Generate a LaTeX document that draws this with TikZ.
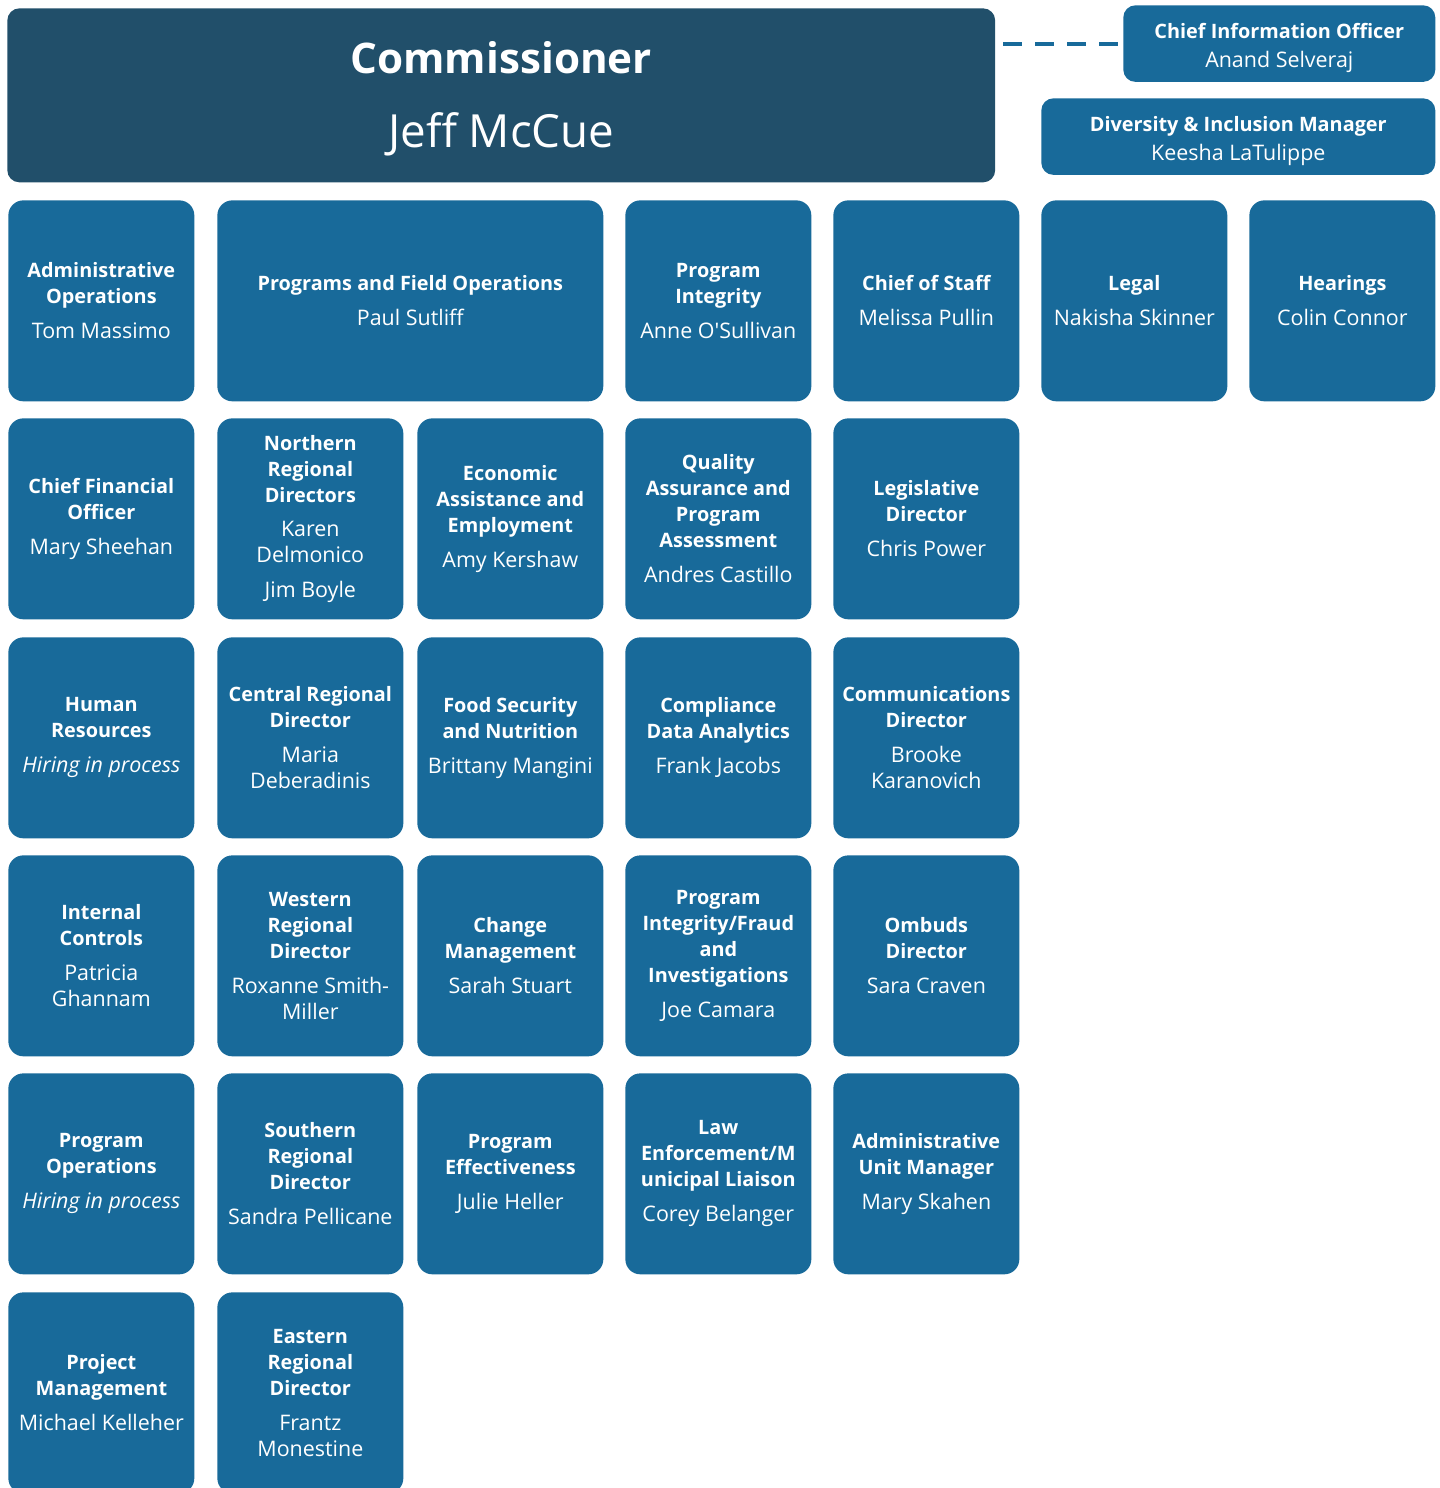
\documentclass[tikz,border=0pt]{standalone}
\usepackage{fontspec}
\setmainfont{Open Sans}
\usetikzlibrary{positioning}
\definecolor{boxblue}{RGB}{24,106,154}
\definecolor{headblue}{RGB}{33,79,106}
\newcommand{\hd}[1]{{\fontsize{11.3}{14.8}\selectfont\bfseries #1}}

\begin{document}
\begin{tikzpicture}[x=0.02cm, y=-0.02cm,
  orgunit/.style={anchor=north west, rounded corners=0.3cm, fill=boxblue,
    text=white, align=center, inner sep=2pt, minimum width=3.72cm,
    minimum height=4.02cm, font=\fontsize{12.2}{14.8}\selectfont},
  wideunit/.style={orgunit, minimum width=7.72cm},
  topunit/.style={anchor=north west, rounded corners=0.24cm, fill=boxblue,
    text=white, align=center, inner sep=2pt, minimum height=1.53cm,
    font=\fontsize{12.2}{16.5}\selectfont}]
        \clip (0,0) rectangle (1440,1488);
        \node [anchor=north west, rounded corners=0.24cm, fill=headblue, text=white,
          align=center, minimum width=19.76cm, minimum height=3.48cm,
          font=\fontsize{26}{42}\selectfont] (comm) at (7,8)
          {\rule{0pt}{22pt}{\fontsize{24}{42}\selectfont\bfseries Commissioner}\\Jeff McCue};
        \node [topunit, minimum width=6.24cm] (cio) at (1123,5)
          {\rule{0pt}{13.3pt}\hd{Chief Information Officer}\\Anand Selveraj};
        \node [topunit, minimum width=7.88cm] (diversity) at (1041,98)
          {\rule{0pt}{13.3pt}\hd{Diversity \& Inclusion Manager}\\Keesha LaTulippe};
        \draw [boxblue, line width=2.3pt, dash pattern=on 10.8pt off 7.4pt,
          shorten <=4.5pt] (comm.east |- cio.west) -- (cio.west);
        % first row
        \node [orgunit] (adminops) at (8,200)
          {\hd{Administrative}\\\hd{Operations}\\[5pt]Tom Massimo};
        \node [wideunit] (progfield) at (217,200)
          {\hd{Programs and Field Operations}\\[5pt]Paul Sutliff};
        \node [orgunit] (progint) at (625,200)
          {\hd{Program}\\\hd{Integrity}\\[5pt]Anne O\textquotesingle Sullivan};
        \node [orgunit] (chiefstaff) at (833,200)
          {\hd{Chief of Staff}\\[5pt]Melissa Pullin};
        \node [orgunit] (legal) at (1041,200)
          {\hd{Legal}\\[5pt]Nakisha Skinner};
        \node [orgunit] (hearings) at (1249,200)
          {\hd{Hearings}\\[5pt]Colin Connor};
        % second row
        \node [orgunit] (cfo) at (8,418)
          {\hd{Chief Financial}\\\hd{Officer}\\[5pt]Mary Sheehan};
        \node [orgunit] (northern) at (217,418)
          {\hd{Northern}\\\hd{Regional}\\\hd{Directors}\\[5pt]Karen\\Delmonico\\[5pt]Jim Boyle};
        \node [orgunit] (econ) at (417,418)
          {\hd{Economic}\\\hd{Assistance and}\\\hd{Employment}\\[5pt]Amy Kershaw};
        \node [orgunit] (quality) at (625,418)
          {\hd{Quality}\\\hd{Assurance and}\\\hd{Program}\\\hd{Assessment}\\[5pt]Andres Castillo};
        \node [orgunit] (legis) at (833,418)
          {\hd{Legislative}\\\hd{Director}\\[5pt]Chris Power};
        % third row
        \node [orgunit] (hr) at (8,637)
          {\hd{Human}\\\hd{Resources}\\[5pt]\textit{Hiring in process}};
        \node [orgunit] (central) at (217,637)
          {\hd{Central Regional}\\\hd{Director}\\[5pt]Maria\\Deberadinis};
        \node [orgunit] (food) at (417,637)
          {\hd{Food Security}\\\hd{and Nutrition}\\[5pt]Brittany Mangini};
        \node [orgunit] (compliance) at (625,637)
          {\hd{Compliance}\\\hd{Data Analytics}\\[5pt]Frank Jacobs};
        \node [orgunit] (comms) at (833,637)
          {\hd{Communications}\\\hd{Director}\\[5pt]Brooke\\Karanovich};
        % fourth row
        \node [orgunit] (intctrl) at (8,855)
          {\hd{Internal}\\\hd{Controls}\\[5pt]Patricia\\Ghannam};
        \node [orgunit] (western) at (217,855)
          {\hd{Western}\\\hd{Regional}\\\hd{Director}\\[5pt]Roxanne Smith-\\Miller};
        \node [orgunit] (change) at (417,855)
          {\hd{Change}\\\hd{Management}\\[5pt]Sarah Stuart};
        \node [orgunit] (fraud) at (625,855)
          {\hd{Program}\\\hd{Integrity/Fraud}\\\hd{and}\\\hd{Investigations}\\[5pt]Joe Camara};
        \node [orgunit] (ombuds) at (833,855)
          {\hd{Ombuds}\\\hd{Director}\\[5pt]Sara Craven};
        % fifth row
        \node [orgunit] (progops) at (8,1073)
          {\hd{Program}\\\hd{Operations}\\[5pt]\textit{Hiring in process}};
        \node [orgunit] (southern) at (217,1073)
          {\hd{Southern}\\\hd{Regional}\\\hd{Director}\\[5pt]Sandra Pellicane};
        \node [orgunit] (effect) at (417,1073)
          {\hd{Program}\\\hd{Effectiveness}\\[5pt]Julie Heller};
        \node [orgunit] (lawenf) at (625,1073)
          {\hd{Law}\\\hd{Enforcement/M}\\\hd{unicipal Liaison}\\[5pt]Corey Belanger};
        \node [orgunit] (adminunit) at (833,1073)
          {\hd{Administrative}\\\hd{Unit Manager}\\[5pt]Mary Skahen};
        % sixth row
        \node [orgunit] (projmgmt) at (8,1292)
          {\hd{Project}\\\hd{Management}\\[5pt]Michael Kelleher};
        \node [orgunit] (eastern) at (217,1292)
          {\hd{Eastern}\\\hd{Regional}\\\hd{Director}\\[5pt]Frantz\\Monestine};
    \end{tikzpicture}
\end{document}
